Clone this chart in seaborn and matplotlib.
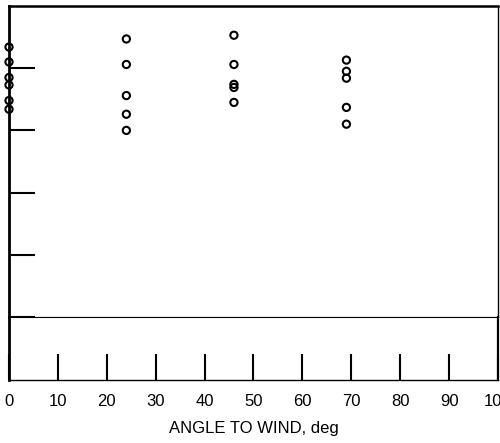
import numpy as np
import pandas as pd

import matplotlib
matplotlib.use('Agg')

import matplotlib.pyplot as plt

import seaborn as sns

sns.set_style('white')
plt.rcParams['font.family'] = ['Liberation Sans', 'DejaVu Sans']
plt.rcParams['text.color'] = 'black'
plt.rcParams['axes.labelcolor'] = 'black'
plt.rcParams['xtick.color'] = 'black'
plt.rcParams['ytick.color'] = 'black'

# angles (deg) at which the measurements were taken
angles = [0, 24, 46, 69]

vals_0 = [4.34, 4.10, 3.85, 3.73, 3.48, 3.34]
vals_24 = [4.47, 4.06, 3.56, 3.26, 3.00]
vals_46 = [4.53, 4.06, 3.74, 3.69, 3.45]
vals_69 = [4.13, 3.95, 3.84, 3.37, 3.10]

x_ticks = [0, 10, 20, 30, 40, 50, 60, 70, 80, 90, 100]

rows = []
for a, vals in zip(angles, [vals_0, vals_24, vals_46, vals_69]):
    for v in vals:
        rows.append({'angle': a, 'value': v})
df = pd.DataFrame(rows)

fig = plt.figure(figsize=(5.0, 4.43), dpi=100)
left, width = 9 / 500, 489 / 500
ax = fig.add_axes([left, 1 - 317 / 443, width, 311 / 443])
ax2 = fig.add_axes([left, 1 - 380 / 443, width, 63 / 443], sharex=ax)

sns.scatterplot(data=df, x='angle', y='value', ax=ax, marker='o', s=27,
                facecolors='none', edgecolor='black', linewidth=1.5, legend=False)
for c in ax.collections:
    c.set_clip_on(False)

ax.set_xlim(0, 100)
ax.set_ylim(0, 5)
ax.set_yticks([0, 1, 2, 3, 4])
ax.tick_params(axis='y', direction='in', length=18.5, width=1.5, left=True,
               labelleft=False)
ax.tick_params(axis='x', bottom=False, labelbottom=False)
ax.set_xlabel('')
ax.set_ylabel('')
for side, lw in [('left', 2.0), ('top', 1.8), ('right', 1.0), ('bottom', 0.8)]:
    ax.spines[side].set_visible(True)
    ax.spines[side].set_color('black')
    ax.spines[side].set_linewidth(lw)

ax2.set_ylim(0, 1)
ax2.set_yticks([])
ax2.set_xticks(x_ticks)
ax2.set_xticklabels([str(t) for t in x_ticks], fontsize=12)
ax2.tick_params(axis='x', direction='in', length=19, width=1.5, bottom=True,
                pad=10)
ax2.set_xlabel('ANGLE TO WIND, deg', fontsize=12, labelpad=9)
for side, lw in [('left', 2.0), ('top', 0.8), ('right', 1.6), ('bottom', 1.0)]:
    ax2.spines[side].set_visible(True)
    ax2.spines[side].set_color('black')
    ax2.spines[side].set_linewidth(lw)

plt.savefig('out.png', dpi=100)
